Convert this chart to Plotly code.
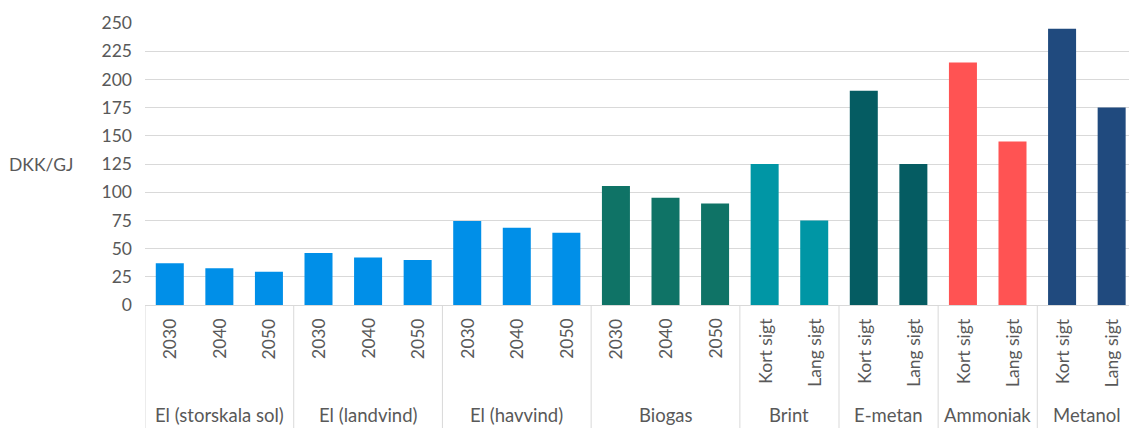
import plotly.graph_objects as go

groups = ["El (storskala sol)", "El (landvind)", "El (havvind)", "Biogas",
          "Brint", "E-metan", "Ammoniak", "Metanol"]
years = ["2030", "2040", "2050"]
horizons = ["Kort sigt", "Lang sigt"]
group_subs = [years, years, years, years, horizons, horizons, horizons, horizons]
values = [
    [37, 32.5, 29.5],
    [46, 42, 40],
    [74.5, 68.5, 64],
    [105.5, 95, 90],
    [125, 75],
    [190, 125],
    [215, 145],
    [245, 175],
]
colors = ["#008FE8", "#008FE8", "#008FE8", "#0F7366",
          "#0096A5", "#055C62", "#FF5353", "#204A7E"]
y_ticks = [0, 25, 50, 75, 100, 125, 150, 175, 200, 225, 250]

FONT = "Lato"
FS = 17.5
GREY = "#595959"
LINE = "#D9D9D9"

fig = go.Figure()
annotations = []
shapes = []
pos = 0
for g, subs, vals, c in zip(groups, group_subs, values, colors):
    xs = list(range(pos, pos + len(vals)))
    fig.add_trace(go.Bar(x=xs, y=vals, marker=dict(color=c, line=dict(width=0)),
                         width=0.565, showlegend=False, name=g))
    for x, s in zip(xs, subs):
        annotations.append(dict(x=x, y=0, xref="x", yref="y", text=s, textangle=-90,
                                showarrow=False, yanchor="top", yshift=-11,
                                font=dict(family=FONT, size=FS, color=GREY)))
    annotations.append(dict(x=(xs[0] + xs[-1]) / 2, y=0, xref="x", yref="y", text=g,
                            showarrow=False, yanchor="middle", yshift=-110,
                            font=dict(family=FONT, size=18.5, color=GREY)))
    shapes.append(dict(type="line", xref="x", yref="paper", x0=pos - 0.5, x1=pos - 0.5,
                       y0=0, y1=-0.44, line=dict(color=LINE, width=1)))
    pos += len(vals)

annotations.append(dict(x=0, y=125, xref="paper", yref="y", xanchor="left",
                        xshift=-138, text="DKK/GJ", showarrow=False,
                        font=dict(family=FONT, size=FS, color=GREY)))

fig.update_layout(
    width=1129, height=428,
    margin=dict(l=145, r=0, t=23, b=123),
    plot_bgcolor="white", paper_bgcolor="white",
    annotations=annotations, shapes=shapes,
    font=dict(family=FONT, size=FS, color=GREY),
)
fig.update_xaxes(range=[-0.5, pos - 0.65], showticklabels=False, showgrid=False,
                 zeroline=False, showline=True, linecolor=LINE, linewidth=1,
                 fixedrange=True)
fig.update_yaxes(range=[0, 250], tickvals=y_ticks, showgrid=True, gridcolor=LINE,
                 gridwidth=1, zeroline=False, showline=False, ticks="",
                 ticklabelstandoff=12, tickfont=dict(family=FONT, size=FS, color=GREY),
                 fixedrange=True)

fig.write_html("out.html", config={"displayModeBar": False},
               post_script="document.body.style.margin='0';document.body.style.overflow='hidden';")
